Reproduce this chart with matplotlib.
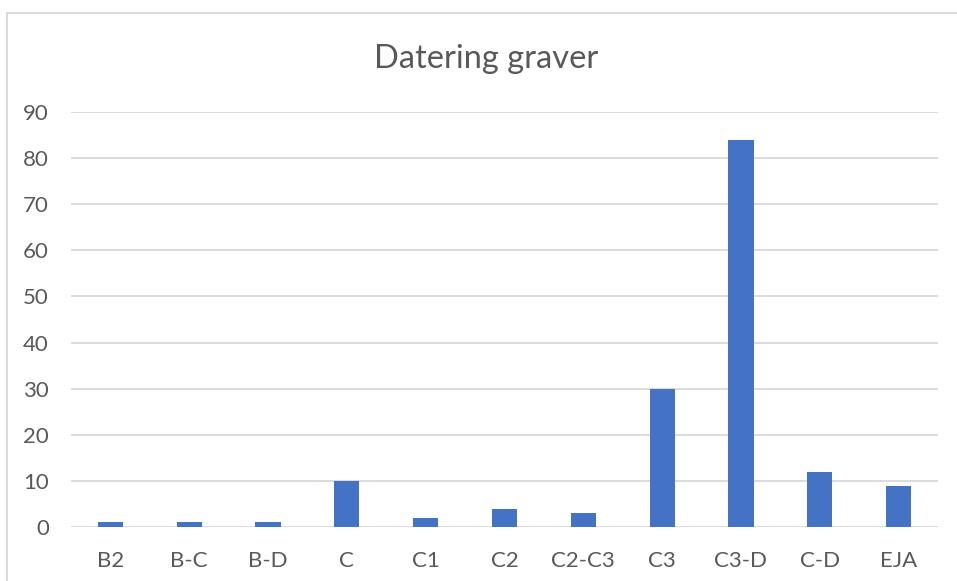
import matplotlib
matplotlib.use('Agg')
import matplotlib.pyplot as plt
from matplotlib.lines import Line2D

categories = ['B2', 'B-C', 'B-D', 'C', 'C1', 'C2', 'C2-C3', 'C3', 'C3-D', 'C-D', 'EJA']
counts = [1, 1, 1, 10, 2, 4, 3, 30, 84, 12, 9]
y_ticks = [0, 10, 20, 30, 40, 50, 60, 70, 80, 90]

plt.rcParams['font.family'] = ['Lato', 'DejaVu Sans']
text_color = '#595959'
grid_color = '#D9D9D9'

fig = plt.figure(figsize=(9.57, 5.81), dpi=100)
ax = fig.add_axes([71 / 957, 1 - 527 / 581, (938 - 71) / 957, (527 - 112) / 581])

ax.bar(range(len(categories)), counts, width=0.32, color='#4472C4', zorder=3)

ax.set_xlim(-0.5, len(categories) - 0.5)
ax.set_ylim(0, 90)
ax.set_yticks(y_ticks)
ax.set_xticks(range(len(categories)))
ax.set_xticklabels(categories)

ax.grid(axis='y', color=grid_color, linewidth=1.3, zorder=0)
for s in ax.spines.values():
    s.set_visible(False)
ax.tick_params(axis='both', length=0, labelsize=16, colors=text_color)
ax.tick_params(axis='y', pad=16)
ax.tick_params(axis='x', pad=17)

fig.text(486 / 957, 1 - 59 / 581, 'Datering graver', ha='center', va='center',
         fontsize=23.5, color=text_color)

# outer chart frame (only left and top edges visible in the crop)
fig.add_artist(Line2D([7.5 / 957, 7.5 / 957], [0, 1 - 13 / 581], color=grid_color, linewidth=1.3))
fig.add_artist(Line2D([7.5 / 957, 1], [1 - 13 / 581, 1 - 13 / 581], color=grid_color, linewidth=1.3))

plt.savefig('out.png', dpi=100, facecolor='white')
plt.close()
